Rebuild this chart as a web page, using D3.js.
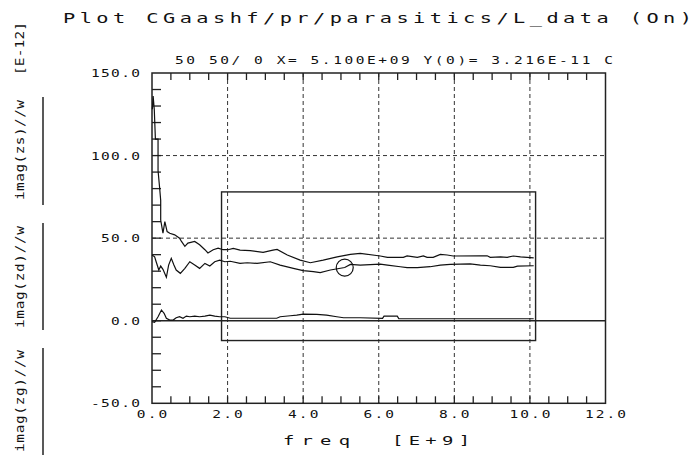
<!DOCTYPE html>
<html>
<head>
<meta charset="utf-8">
<script src="https://cdn.jsdelivr.net/npm/d3@7"></script>
<style>
  body { margin: 0; background: #fff; }
  text { font-family: "DejaVu Sans Mono", monospace; fill: #111; }
</style>
</head>
<body>
<div id="chart"></div>
<script>
// values (freq in E+9, value in E-12)
const zsData = [[0.01,128],[0.03,136],[0.06,128],[0.09,110],[0.16,110],[0.16,91],[0.2,81],[0.23,73],[0.23,61],
  [0.29,53],[0.34,60],[0.4,54],[0.47,53],[0.6,52],[0.73,50],[0.78,48],[0.87,45],[0.95,47],[1.13,48],[1.26,46],
  [1.4,43],[1.48,41],[1.62,43],[1.75,44],[1.88,43],[2.01,43],[2.15,43.8],[2.33,42.8],[2.6,42.4],[2.94,41.4],
  [3.2,42.8],[3.31,43.2],[3.58,39.8],[3.92,36.7],[4.19,35.1],[4.53,36.7],[4.9,38.7],[5.25,40.2],[5.51,40.8],
  [6.04,39.2],[6.23,38.4],[6.65,38.4],[6.75,39.2],[7.02,38.4],[7.18,39.2],[7.28,38.4],[7.44,38.4],[7.63,40.2],
  [7.81,39.8],[7.97,39.2],[8.69,39.3],[8.87,39.3],[8.95,38.4],[9.22,38.7],[9.4,38.4],[9.56,39.2],[9.75,38.7],[10.1,38.1]];

const zdData = [[0.0,39.8],[0.07,38.7],[0.11,35.7],[0.18,30.7],[0.23,33.1],[0.29,31.1],[0.38,26.3],[0.44,33.7],
  [0.51,37.8],[0.58,33.7],[0.64,30.7],[0.75,28.7],[0.87,31.7],[1.0,35.7],[1.13,33.7],[1.26,31.7],[1.4,34.7],
  [1.53,33.1],[1.66,35.7],[1.79,36.7],[1.93,35.7],[2.07,36],[2.33,34.7],[2.52,35.1],[2.78,34.7],[3.13,35.7],
  [3.39,33.7],[3.74,31.7],[4.0,30.3],[4.27,29.7],[4.45,29.1],[4.72,30.7],[5.1,32.2],[5.25,34.1],[5.51,33.7],
  [6.04,34.3],[6.23,33.7],[6.57,32.7],[6.75,32.1],[7.02,32.1],[7.36,32.7],[7.63,33.7],[7.89,34.1],[8.42,34.4],
  [8.69,33.7],[8.95,33.3],[9.22,32.3],[9.56,32.3],[9.67,33.1],[10.1,33.3]];

const zgData = [[0.0,-0.6],[0.07,-1],[0.16,2.4],[0.25,6.5],[0.32,4.5],[0.38,1.5],[0.47,0.4],[0.56,0.4],[0.64,1.8],
  [0.73,2.4],[0.82,1.5],[0.91,2.8],[1.0,2.4],[1.13,2.8],[1.26,2.4],[1.4,2.8],[1.53,3.4],[1.66,2.8],[1.79,2.4],
  [1.93,2.4],[2.07,1.5],[3.3,1.5],[3.39,2.4],[3.66,3.0],[3.83,3.4],[4.0,4.0],[4.36,3.9],[4.62,3.4],[4.89,2.4],
  [5.07,1.8],[5.51,1.8],[6.1,1.4],[6.14,2.8],[6.49,2.8],[6.53,1.3],[8.0,1.2],[10.1,1.2]];

const xTicks = [0, 2, 4, 6, 8, 10, 12];
const xTickLabels = ["0.0", "2.0", "4.0", "6.0", "8.0", "10.0", "12.0"];
const yTicks = [150, 100, 50, 0, -50];
const yTickLabels = ["150.0", "100.0", "50.0", "0.0", "-50.0"];
const gridX = [2, 4, 6, 8, 10];
const gridY = [100, 50];
const boxRange = {x0: 1.84, x1: 10.15, y0: -12, y1: 78};
const marker = {f: 5.1, v: 32.16};

const svg = d3.select("#chart")
.append("svg")
.attr("width", 698)
.attr("height", 455);

const x = d3.scaleLinear().domain([0, 12]).range([152, 605.5]);
const y = d3.scaleLinear().domain([-50, 150]).range([403.3, 73]);

// plotter font is wide: stretch the glyphs sideways, then fit to length
const stretch = 1.45;
function label(px, py, str, len, size, anchor) {
  let x0 = px;
  if (anchor === "end") x0 = px - len;
  if (anchor === "middle") x0 = px - len / 2;
  return svg.append("text")
  .attr("transform", `translate(${x0}, ${py}) scale(${stretch}, 1)`)
  .attr("font-size", size)
  .attr("textLength", len / stretch)
  .attr("lengthAdjust", "spacing")
  .text(str);
}

// grid
svg.selectAll(".gx")
.data(gridX)
.join("line")
.attr("x1", d => x(d)).attr("x2", d => x(d))
.attr("y1", y(150)).attr("y2", y(-50))
.attr("stroke", "#333").attr("stroke-dasharray", "4,3");

svg.selectAll(".gy")
.data(gridY)
.join("line")
.attr("x1", x(0)).attr("x2", x(12))
.attr("y1", d => y(d)).attr("y2", d => y(d))
.attr("stroke", "#333").attr("stroke-dasharray", "4,3");

// zero line
svg.append("line")
.attr("x1", x(0)).attr("x2", x(12))
.attr("y1", y(0)).attr("y2", y(0))
.attr("stroke", "#222").attr("stroke-width", 1.3);

// frame
svg.append("rect")
.attr("x", x(0)).attr("y", y(150))
.attr("width", x(12) - x(0)).attr("height", y(-50) - y(150))
.attr("fill", "none").attr("stroke", "#222").attr("stroke-width", 1.5);

// minor ticks
const xMinor = d3.range(0.5, 12, 0.5);
svg.selectAll(".tt")
.data(xMinor)
.join("line")
.attr("x1", d => x(d)).attr("x2", d => x(d))
.attr("y1", y(150)).attr("y2", y(150) + 7)
.attr("stroke", "#222").attr("stroke-width", 1.3);
svg.selectAll(".tb")
.data(xMinor)
.join("line")
.attr("x1", d => x(d)).attr("x2", d => x(d))
.attr("y1", y(-50)).attr("y2", y(-50) - 7)
.attr("stroke", "#222").attr("stroke-width", 1.3);
svg.selectAll(".tl")
.data(d3.range(-40, 150, 10))
.join("line")
.attr("x1", x(0)).attr("x2", x(0) + 9)
.attr("y1", d => y(d)).attr("y2", d => y(d))
.attr("stroke", "#222").attr("stroke-width", 1.3);

// limit box
svg.append("rect")
.attr("x", x(boxRange.x0)).attr("y", y(boxRange.y1))
.attr("width", x(boxRange.x1) - x(boxRange.x0))
.attr("height", y(boxRange.y0) - y(boxRange.y1))
.attr("fill", "none").attr("stroke", "#222").attr("stroke-width", 1.4);

// traces
const line = d3.line()
.x(d => x(d[0]))
.y(d => y(d[1]));

[zsData, zdData, zgData].forEach(function(data) {
  svg.append("path")
  .datum(data)
  .attr("d", line)
  .attr("fill", "none")
  .attr("stroke", "#111")
  .attr("stroke-width", 1.2);
});

// marker
svg.append("circle")
.attr("cx", x(marker.f)).attr("cy", y(marker.v))
.attr("r", 8.5)
.attr("fill", "none").attr("stroke", "#111").attr("stroke-width", 1.2);

// tick labels
yTicks.forEach(function(t, i) {
  const s = yTickLabels[i];
  label(140, y(t) + 4, s, s.length * 10 - 1, 10, "end");
});
xTicks.forEach(function(t, i) {
  const s = xTickLabels[i];
  label(x(t), 418, s, s.length * 10.5 - 1, 10, "middle");
});

// texts
label(63, 23, "Plot CGaashf/pr/parasitics/L_data (On)", 629, 14);
label(175, 64, "50  50/ 0 X= 5.100E+09  Y(0)= 3.216E-11 C", 438, 10);
label(283, 445, "freq", 67, 13);
label(392, 445, "[E+9]", 78, 13);

// left side labels, rotated
const sideLabels = [
  {text: "[E-12]", y0: 75, y1: 22},
  {text: "imag(zs)//w", y0: 200, y1: 100},
  {text: "imag(zd)//w", y0: 328, y1: 226},
  {text: "imag(zg)//w", y0: 452, y1: 350}
];
sideLabels.forEach(function(d) {
  svg.append("text")
  .attr("transform", `translate(24, ${d.y0}) rotate(-90) scale(1.2, 1)`)
  .attr("font-size", 12)
  .attr("textLength", (d.y0 - d.y1) / 1.2)
  .attr("lengthAdjust", "spacing")
  .text(d.text);
});

const sideLines = [[97, 205], [223, 330], [348, 455]];
svg.selectAll(".sl")
.data(sideLines)
.join("line")
.attr("x1", 43).attr("x2", 43)
.attr("y1", d => d[0]).attr("y2", d => d[1])
.attr("stroke", "#222").attr("stroke-width", 1.5);
</script>
</body>
</html>
